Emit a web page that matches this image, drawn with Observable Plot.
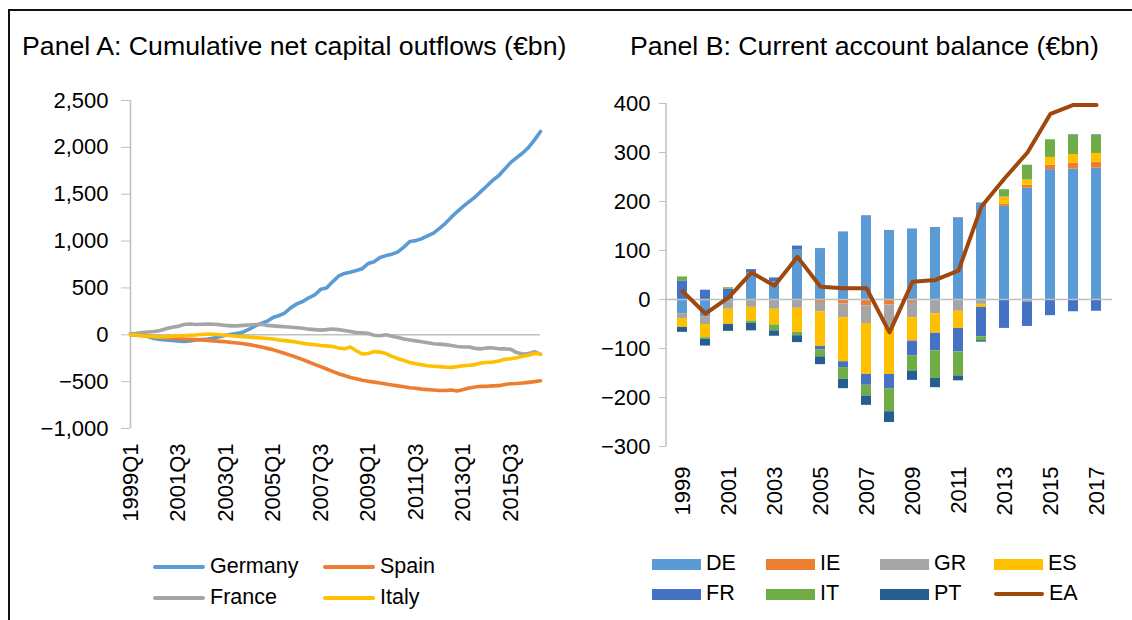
<!DOCTYPE html>
<html>
<head>
<meta charset="utf-8">
<script src="https://cdn.jsdelivr.net/npm/d3@7"></script>
<script src="https://cdn.jsdelivr.net/npm/@observablehq/plot@0.6"></script>
<style>
  body { margin: 0; background: #fff; font-family: "Liberation Sans", Arial, sans-serif; color: #000; }
  #wrap { position: relative; width: 1132px; height: 620px; overflow: hidden; background: #fff; }
  .frameTop { position: absolute; left: 8px; top: 9px; width: 1124px; height: 0; border-top: 2px solid #111; }
  .frameLeft { position: absolute; left: 8px; top: 9px; width: 0; height: 611px; border-left: 2px solid #111; }
  .title { position: absolute; font-size: 26.7px; line-height: 1; white-space: nowrap; }
  #chartA { position: absolute; left: 0; top: 80px; }
  #chartB { position: absolute; left: 560px; top: 80px; }
  .leg { position: absolute; height: 24px; display: flex; align-items: center; font-size: 21.5px; line-height: 1; white-space: nowrap; }
  .sw { display: inline-block; margin-right: 5px; }
</style>
</head>
<body>
<div id="wrap">
  <div class="frameTop"></div>
  <div class="frameLeft"></div>
  <div class="title" style="left:22px; top:33px;">Panel A: Cumulative net capital outflows (€bn)</div>
  <div class="title" style="left:630px; top:33px;">Panel B: Current account balance (€bn)</div>
  <div id="chartA"></div>
  <div id="chartB"></div>
  <div id="legA"></div>
  <div id="legB"></div>
</div>
<script>
// ---------- Panel A: cumulative net capital outflows (€bn), quarterly 1999Q1 onward ----------
const quarterTickIndex = [0, 8, 16, 24, 32, 40, 48, 56, 64];
const quarterTickLabels = ["1999Q1", "2001Q3", "2003Q1", "2005Q1", "2007Q3", "2009Q1", "2011Q3", "2013Q1", "2015Q3"];
const panelATicks = [-1000, -500, 0, 500, 1000, 1500, 2000, 2500];

const germany = [10, 5, 0, -20, -40, -50, -55, -60, -65, -70, -65, -55, -50, -45, -35, -22, -5, 5, 15, 30,
  60, 95, 120, 145, 185, 205, 235, 290, 330, 355, 395, 425, 485, 500, 565, 625, 655, 668, 685, 705,
  760, 780, 825, 845, 860, 885, 935, 995, 1005, 1025, 1055, 1085, 1135, 1190, 1255, 1315, 1370, 1420, 1470, 1530,
  1590, 1650, 1700, 1770, 1840, 1890, 1940, 2000, 2080, 2170];
const spain = [0, -5, -10, -15, -20, -25, -30, -35, -40, -45, -48, -52, -55, -60, -65, -70, -75, -82, -88, -95,
  -105, -118, -131, -145, -160, -180, -200, -220, -242, -265, -290, -315, -340, -365, -390, -415, -435, -455, -470, -485,
  -495, -505, -515, -525, -535, -545, -555, -565, -570, -580, -585, -590, -595, -595, -590, -600, -585, -568, -558, -550,
  -550, -545, -543, -530, -522, -520, -515, -508, -500, -490];
const france = [10, 15, 25, 30, 35, 45, 65, 80, 90, 110, 115, 110, 112, 115, 112, 108, 100, 95, 95, 100,
  105, 110, 112, 100, 95, 90, 85, 80, 75, 70, 60, 55, 50, 55, 62, 55, 45, 35, 25, 20,
  15, -5, -10, 0, -15, -30, -45, -55, -65, -75, -85, -95, -100, -105, -115, -125, -130, -130, -145, -150,
  -140, -140, -150, -150, -155, -190, -205, -200, -180, -210];
const italy = [0, -5, -10, -15, -20, -24, -20, -15, -12, -10, -5, -2, 3, 8, 5, 0, -5, -10, -15, -20,
  -25, -30, -35, -40, -45, -55, -62, -70, -80, -90, -100, -107, -114, -118, -125, -140, -150, -130, -170, -205,
  -200, -180, -185, -200, -230, -255, -275, -295, -310, -320, -330, -335, -340, -345, -348, -340, -330, -325, -318, -300,
  -295, -290, -280, -262, -255, -245, -230, -218, -200, -205];

// ---------- Panel B: current account balance (€bn), annual ----------
const years = ["1999","2000","2001","2002","2003","2004","2005","2006","2007","2008","2009","2010","2011","2012","2013","2014","2015","2016","2017"];
const yearTicks = ["1999","2001","2003","2005","2007","2009","2011","2013","2015","2017"];
const panelBTicks = [-300, -200, -100, 0, 100, 200, 300, 400];
const countriesB = ["DE", "IE", "GR", "ES", "FR", "IT", "PT"];
const DE = [-29, -35, -5, 55, 36, 102, 104, 138, 171, 141, 144, 147, 167, 197, 190, 227, 265, 266, 268];
const IE = [0, 0, 0, 0, 0, 0, -6, -9, -13, -11, -6, -1, 0, 0, 4, 6, 9, 12, 12];
const GR = [-10, -16, -15, -16, -20, -18, -19, -28, -36, -45, -31, -28, -24, -10, -2, -5, 0, 0, 0];
const ES = [-18, -27, -31, -28, -32, -49, -71, -90, -104, -97, -48, -40, -35, -6, 15, 11, 16, 18, 18];
const FR = [38, 19, 21, 6, 8, 7, -7, -12, -22, -29, -30, -36, -48, -60, -57, -50, -33, -25, -24];
const IT = [8, -3, 3, -5, -12, -7, -14, -24, -22, -47, -31, -56, -49, -8, 15, 30, 36, 39, 37];
const PT = [-10, -14, -14, -15, -11, -14, -16, -19, -19, -22, -19, -19, -10, -3, 0, 0, 0, 1, 1];
const EA = [17, -29, 4, 55, 28, 87, 26, 23, 23, -67, 36, 40, 59, 190, 247, 300, 379, 397, 397];

const colorsA = {Germany: "#5B9BD5", Spain: "#ED7D31", France: "#A5A5A5", Italy: "#FFC000"};
const colorsB = {DE: "#5B9BD5", IE: "#ED7D31", GR: "#A5A5A5", ES: "#FFC000", FR: "#4472C4", IT: "#70AD47", PT: "#255E91"};
const eaColor = "#9E480E";
const axisGrey = "#BFBFBF";
const FONT = '"Liberation Sans", Arial, sans-serif';

// ---------- Build Panel A ----------
const seriesA = {Germany: germany, Spain: spain, France: france, Italy: italy};
const lineOrder = ["Germany", "Spain", "France", "Italy"];
const dataA = lineOrder.flatMap(name => seriesA[name].map((v, i) => ({q: i, value: v, name})));

const chartA = Plot.plot({
  width: 560, height: 470,
  marginLeft: 130, marginRight: 20, marginTop: 20, marginBottom: 122,
  style: {fontFamily: FONT, fontSize: "22px", color: "#000", background: "transparent", overflow: "visible"},
  x: {domain: [0, germany.length - 1]},
  y: {domain: [d3.min(panelATicks), d3.max(panelATicks)]},
  marks: [
    Plot.ruleY([0], {stroke: axisGrey, strokeWidth: 1.5}),
    Plot.ruleX([{q: 0, lo: d3.min(panelATicks), hi: d3.max(panelATicks)}], {x: "q", y1: "lo", y2: "hi", stroke: axisGrey, strokeWidth: 1.5}),
    ...lineOrder.map(name => Plot.lineY(dataA.filter(d => d.name === name), {
      x: "q", y: "value", stroke: colorsA[name], strokeWidth: 3.6, strokeLinejoin: "round", strokeLinecap: "round"
    })),
    Plot.axisY({ticks: panelATicks, tickFormat: d3.format(","), tickSize: 9, tickPadding: 13,
      stroke: axisGrey, fill: "#000", fontSize: 22, label: null}),
    Plot.axisX({ticks: quarterTickIndex, tickFormat: (d) => quarterTickLabels[quarterTickIndex.indexOf(d)],
      tickRotate: -90, tickSize: 0, tickPadding: 15, fill: "#000", fontSize: 22, label: null})
  ]
});
document.getElementById("chartA").appendChild(chartA);

// ---------- Build Panel B ----------
const seriesB = {DE, IE, GR, ES, FR, IT, PT};
const barData = years.flatMap((y, i) => countriesB.map(c => ({year: y, country: c, value: seriesB[c][i]})));
const eaData = years.map((y, i) => ({year: y, value: EA[i]}));

const yAxisLine = (index, scales, values, dims) => {
  const g = d3.create("svg:line")
    .attr("x1", dims.marginLeft).attr("x2", dims.marginLeft)
    .attr("y1", scales.y(d3.max(panelBTicks))).attr("y2", scales.y(d3.min(panelBTicks)))
    .attr("stroke", axisGrey).attr("stroke-width", 1.5);
  return g.node();
};

const chartB = Plot.plot({
  width: 572, height: 470,
  marginLeft: 106, marginRight: 20, marginTop: 23, marginBottom: 104,
  style: {fontFamily: FONT, fontSize: "22px", color: "#000", background: "transparent", overflow: "visible"},
  x: {type: "band", domain: years, paddingInner: 0.57, paddingOuter: 0.285},
  y: {domain: [d3.min(panelBTicks), d3.max(panelBTicks)]},
  color: {domain: countriesB, range: countriesB.map(c => colorsB[c])},
  marks: [
    Plot.barY(barData, {x: "year", y: "value", fill: "country", order: countriesB, z: "country"}),
    Plot.ruleY([0], {stroke: axisGrey, strokeWidth: 1.5}),
    yAxisLine,
    Plot.lineY(eaData, {x: "year", y: "value", stroke: eaColor, strokeWidth: 4, strokeLinejoin: "round", strokeLinecap: "round"}),
    Plot.axisY({ticks: panelBTicks, tickFormat: d3.format("d"), tickSize: 7, tickPadding: 9,
      stroke: axisGrey, fill: "#000", fontSize: 22, label: null}),
    Plot.axisX({ticks: yearTicks, tickRotate: -90, tickSize: 0, tickPadding: 20, fill: "#000", fontSize: 22, label: null})
  ]
});
document.getElementById("chartB").appendChild(chartB);

// ---------- Legends (HTML) ----------
const legAItems = [
  {name: "Germany", x: 153, y: 555}, {name: "Spain", x: 323, y: 555},
  {name: "France", x: 153, y: 586}, {name: "Italy", x: 323, y: 586}
];
const legA = d3.select("#legA");
legAItems.forEach(it => {
  const d = legA.append("div").attr("class", "leg").style("left", it.x + "px").style("top", it.y + "px");
  d.append("span").attr("class", "sw").style("width", "52px").style("height", "4px")
    .style("border-radius", "2px").style("background", colorsA[it.name]);
  d.append("span").text(it.name);
});

const legBItems = [
  {name: "DE", x: 652, y: 552}, {name: "IE", x: 766, y: 552}, {name: "GR", x: 880, y: 552}, {name: "ES", x: 994, y: 552},
  {name: "FR", x: 652, y: 582}, {name: "IT", x: 766, y: 582}, {name: "PT", x: 880, y: 582}, {name: "EA", x: 994, y: 582}
];
const legB = d3.select("#legB");
legBItems.forEach(it => {
  const d = legB.append("div").attr("class", "leg").style("left", it.x + "px").style("top", it.y + "px");
  if (it.name === "EA") {
    d.append("span").attr("class", "sw").style("width", "50px").style("height", "4px")
      .style("border-radius", "2px").style("background", eaColor);
  } else {
    d.append("span").attr("class", "sw").style("width", "49px").style("height", "11px")
      .style("background", colorsB[it.name]);
  }
  d.append("span").text(it.name);
});
</script>
</body>
</html>
